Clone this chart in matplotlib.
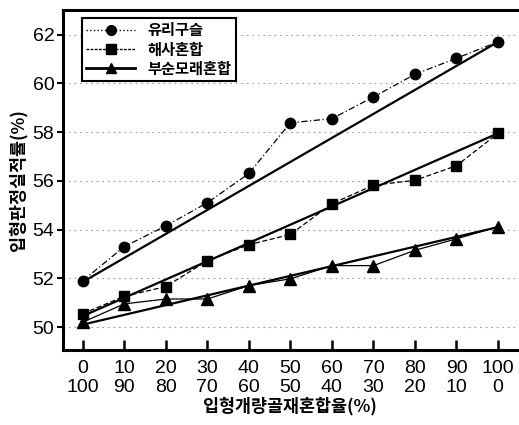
import matplotlib
matplotlib.use("Agg")
import matplotlib.pyplot as plt
import numpy as np

plt.rcParams['font.family'] = ['Liberation Sans', 'Noto Sans CJK KR', 'DejaVu Sans']

x = [0, 10, 20, 30, 40, 50, 60, 70, 80, 90, 100]
x_labels_top = [0, 10, 20, 30, 40, 50, 60, 70, 80, 90, 100]
x_labels_bottom = [100, 90, 80, 70, 60, 50, 40, 30, 20, 10, 0]

glass = [51.9, 53.3, 54.15, 55.1, 56.3, 58.38, 58.55, 59.44, 60.37, 61.03, 61.7]
sea_sand = [50.55, 51.26, 51.66, 52.72, 53.38, 53.8, 55.06, 55.82, 56.02, 56.62, 57.95]
crushed = [50.2, 50.95, 51.15, 51.15, 51.7, 51.98, 52.52, 52.52, 53.15, 53.62, 54.12]

trend_x = [0, 100]
glass_trend = [51.85, 61.7]
sea_trend = [50.45, 57.95]
crushed_trend = [50.1, 54.1]

names = ['유리구슬', '해사혼합', '부순모래혼합']
yticks = [50, 52, 54, 56, 58, 60, 62]

fig = plt.figure(figsize=(5.19, 4.25), dpi=100)
ax = fig.add_axes([0.121, 0.176, 0.877, 0.80])

for yv in yticks:
    ax.axhline(yv, color='#999999', lw=0.8, ls=(0, (1.5, 3.5)), zorder=0)

# trend lines
ax.plot(trend_x, glass_trend, color='black', lw=1.6, zorder=2)
ax.plot(trend_x, sea_trend, color='black', lw=1.6, zorder=2)
ax.plot(trend_x, crushed_trend, color='black', lw=1.6, zorder=2)

l1, = ax.plot(x, glass, color='black', lw=0.9, ls=(0, (5, 2, 1, 2)), marker='o', ms=7.5, zorder=3)
l2, = ax.plot(x, sea_sand, color='black', lw=0.9, ls=(0, (4, 2)), marker='s', ms=7, zorder=3)
l3, = ax.plot(x, crushed, color='black', lw=0.9, ls='-', marker='^', ms=8, zorder=3)

from matplotlib.lines import Line2D
h1 = Line2D([], [], color='black', lw=1.0, ls=':', marker='o', ms=7)
h2 = Line2D([], [], color='black', lw=1.0, ls=(0, (2, 1)), marker='s', ms=6.5)
h3 = Line2D([], [], color='black', lw=2.0, ls='-', marker='^', ms=7.5)
leg = ax.legend([h1, h2, h3], names, loc='upper left', bbox_to_anchor=(0.025, 1.0),
                frameon=True, fancybox=False, edgecolor='black', framealpha=1,
                handlelength=3.2, borderpad=0.3, labelspacing=0.2, handletextpad=0.8,
                prop={'family': ['Noto Sans CJK KR'], 'weight': 'bold', 'size': 11})
leg.get_frame().set_linewidth(1.5)

ax.set_xlim(-4.8, 104.8)
ax.set_ylim(49.05, 63.0)
ax.set_yticks(yticks)
ax.set_yticklabels([str(v) for v in yticks], fontsize=14)
ax.set_xticks(x)
ax.set_xticklabels([f"{a}\n{b}" for a, b in zip(x_labels_top, x_labels_bottom)],
                   fontsize=14, linespacing=1.15)
ax.tick_params(axis='x', direction='in', length=7, width=1.8, pad=7)
ax.tick_params(axis='y', direction='out', length=4, width=1.5, pad=2)

for s in ['left', 'bottom', 'top']:
    ax.spines[s].set_linewidth(2.2)
ax.spines['right'].set_visible(False)

ax.set_ylabel('입형판정실적률(%)', family=['Noto Sans CJK KR'], fontsize=12.5, weight='bold', labelpad=4)
ax.set_xlabel('입형개량골재혼합율(%)', family=['Noto Sans CJK KR'], fontsize=12.5, weight='bold', labelpad=1)

fig.savefig('out.png', dpi=100)
